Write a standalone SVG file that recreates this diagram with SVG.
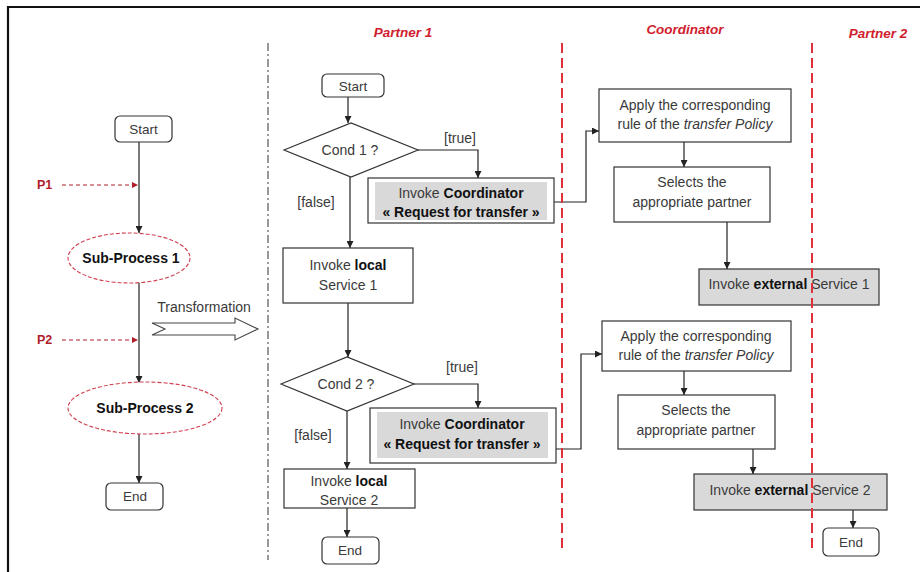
<svg xmlns="http://www.w3.org/2000/svg" width="920" height="572" viewBox="0 0 920 572">
<defs>
<marker id="ah" viewBox="0 0 10 10" refX="10" refY="5" markerWidth="7" markerHeight="7" orient="auto" markerUnits="userSpaceOnUse"><path d="M0,0 L10,5 L0,10 z" fill="#222"/></marker>
<marker id="ahr" viewBox="0 0 10 10" refX="10" refY="5" markerWidth="6" markerHeight="6" orient="auto" markerUnits="userSpaceOnUse"><path d="M0,0 L10,5 L0,10 z" fill="#b01c2a"/></marker>
</defs>
<style>
text{font-family:"Liberation Sans",Arial,sans-serif;font-size:14px;fill:#3a3a3a;text-anchor:middle}
.b{font-weight:bold;fill:#111}
.i{font-style:italic}
.t{font-weight:bold;font-style:italic;fill:#d0202e;font-size:13.5px}
.s{font-size:13.5px}
.box{fill:#fff;stroke:#333;stroke-width:1.2}
.gray{fill:#d9d9d9;stroke:none}
.gbox{fill:#d9d9d9;stroke:#333;stroke-width:1.2}
.conn{fill:none;stroke:#222;stroke-width:1.2}
.ell{fill:#fff;stroke:#d04050;stroke-width:1.1;stroke-dasharray:4,2}
.lane{stroke:#e0303a;stroke-width:2;stroke-dasharray:10,5;fill:none}
.pd{stroke:#b01c2a;stroke-width:1.1;stroke-dasharray:4,3;fill:none}
.p{font-weight:bold;fill:#b01c2a;font-size:12.5px;text-anchor:start}
</style>
<rect width="920" height="572" fill="#fff"/>
<path d="M8,572 L8,7 L920,7" fill="none" stroke="#111" stroke-width="2.2"/>

<g id="dividers">
<line x1="268" y1="43" x2="268" y2="560" stroke="#555" stroke-width="1.2" stroke-dasharray="8,3,2,3"/>
</g>

<g id="titles">
<text class="t" x="403" y="37">Partner 1</text>
<text class="t" x="685" y="34">Coordinator</text>
<text class="t" x="878" y="38">Partner 2</text>
</g>

<g id="connectors">
<line class="conn" x1="139" y1="142" x2="139" y2="233" marker-end="url(#ah)"/>
<line class="conn" x1="139" y1="283" x2="139" y2="383" marker-end="url(#ah)"/>
<line class="conn" x1="139" y1="434" x2="139" y2="483" marker-end="url(#ah)"/>
<line class="pd" x1="62" y1="185" x2="138" y2="185" marker-end="url(#ahr)"/>
<line class="pd" x1="62" y1="340" x2="138" y2="340" marker-end="url(#ahr)"/>
<polygon points="152,323 235,323 235,318 258,329 235,340 235,335 152,335 165,329" fill="#fff" stroke="#444" stroke-width="1.1"/>

<line class="conn" x1="348" y1="97" x2="348" y2="123" marker-end="url(#ah)"/>
<polyline class="conn" points="418,150 478,150 478,178" marker-end="url(#ah)"/>
<line class="conn" x1="350" y1="177" x2="350" y2="248" marker-end="url(#ah)"/>
<line class="conn" x1="348" y1="303" x2="348" y2="357" marker-end="url(#ah)"/>
<polyline class="conn" points="414,384 478,384 478,408" marker-end="url(#ah)"/>
<line class="conn" x1="347" y1="411" x2="347" y2="469" marker-end="url(#ah)"/>
<line class="conn" x1="347" y1="508" x2="347" y2="537" marker-end="url(#ah)"/>

<polyline class="conn" points="554,202 586,202 586,131 599,131" marker-end="url(#ah)"/>
<line class="conn" x1="684" y1="142" x2="684" y2="167" marker-end="url(#ah)"/>
<line class="conn" x1="727" y1="222" x2="727" y2="269" marker-end="url(#ah)"/>
<polyline class="conn" points="556,449 581,449 581,354 602,354" marker-end="url(#ah)"/>
<line class="conn" x1="684" y1="371" x2="684" y2="395" marker-end="url(#ah)"/>
<line class="conn" x1="753" y1="449" x2="753" y2="474" marker-end="url(#ah)"/>
<line class="conn" x1="853" y1="510" x2="853" y2="528" marker-end="url(#ah)"/>
</g>

<g id="orig-start"><rect class="box" x="115" y="116" width="57" height="26" rx="5"/><text class="s" x="143.5" y="134">Start</text></g>
<g id="p1"><text class="p" x="37" y="189">P1</text></g>
<g id="sub1"><ellipse class="ell" cx="129" cy="258" rx="61" ry="25"/><text class="b" x="131" y="263" font-size="13.5">Sub-Process 1</text></g>
<g id="p2"><text class="p" x="37" y="344">P2</text></g>
<g id="transformation"><text x="204" y="312">Transformation</text></g>
<g id="sub2"><ellipse class="ell" cx="145" cy="408" rx="77" ry="26"/><text class="b" x="145" y="413" font-size="13.5">Sub-Process 2</text></g>
<g id="orig-end"><rect class="box" x="106" y="483" width="57" height="27" rx="5"/><text class="s" x="135" y="501">End</text></g>

<g id="p1-start"><rect class="box" x="322" y="74" width="62" height="23" rx="5"/><text class="s" x="353" y="91">Start</text></g>
<g id="cond1"><polygon class="box" points="284,150 351,123 418,150 351,177"/><text x="350" y="155">Cond 1 ?</text><text x="460" y="143">[true]</text><text x="316" y="207">[false]</text></g>
<g id="coord-req1"><rect class="box" x="368" y="178" width="186" height="45"/><rect class="gray" x="375" y="182" width="172" height="38"/><text x="461" y="198">Invoke <tspan class="b">Coordinator</tspan></text><text class="b" x="461" y="217">« Request for transfer »</text></g>
<g id="local1"><rect class="box" x="283" y="248" width="130" height="55"/><text x="348" y="270">Invoke <tspan class="b">local</tspan></text><text x="348" y="290">Service 1</text></g>
<g id="cond2"><polygon class="box" points="281,384 347,357 414,384 347,411"/><text x="346" y="389">Cond 2 ?</text><text x="462" y="372">[true]</text><text x="313" y="440">[false]</text></g>
<g id="coord-req2"><rect class="box" x="370" y="408" width="186" height="55"/><rect class="gray" x="377" y="412" width="171" height="46"/><text x="462" y="429">Invoke <tspan class="b">Coordinator</tspan></text><text class="b" x="462" y="449">« Request for transfer »</text></g>
<g id="local2"><rect class="box" x="284" y="469" width="131" height="39"/><text x="349" y="486">Invoke <tspan class="b">local</tspan></text><text x="349" y="505">Service 2</text></g>
<g id="p1-end"><rect class="box" x="322" y="537" width="57" height="27" rx="5"/><text class="s" x="350" y="555">End</text></g>

<g id="apply1"><rect class="box" x="599" y="89" width="192" height="53"/><text x="695" y="110">Apply the corresponding</text><text x="695" y="129">rule of the <tspan class="i">transfer Policy</tspan></text></g>
<g id="select1"><rect class="box" x="614" y="167" width="156" height="55"/><text x="692" y="187">Selects the</text><text x="692" y="207">appropriate partner</text></g>
<g id="ext1"><rect class="gbox" x="699" y="269" width="180" height="36"/><text x="789" y="289">Invoke <tspan class="b">external</tspan> Service 1</text></g>
<g id="apply2"><rect class="box" x="602" y="321" width="189" height="50"/><text x="696" y="341">Apply the corresponding</text><text x="696" y="360">rule of the <tspan class="i">transfer Policy</tspan></text></g>
<g id="select2"><rect class="box" x="618" y="395" width="157" height="54"/><text x="696" y="415">Selects the</text><text x="696" y="435">appropriate partner</text></g>
<g id="ext2"><rect class="gbox" x="694" y="474" width="193" height="36"/><text x="790" y="495">Invoke <tspan class="b">external</tspan> Service 2</text></g>
<g id="p2-end"><rect class="box" x="823" y="528" width="56" height="28" rx="5"/><text class="s" x="851" y="547">End</text></g>

<g id="lanes">
<line class="lane" x1="562" y1="43" x2="562" y2="553"/>
<line class="lane" x1="812" y1="43" x2="812" y2="552"/>
</g>
</svg>
